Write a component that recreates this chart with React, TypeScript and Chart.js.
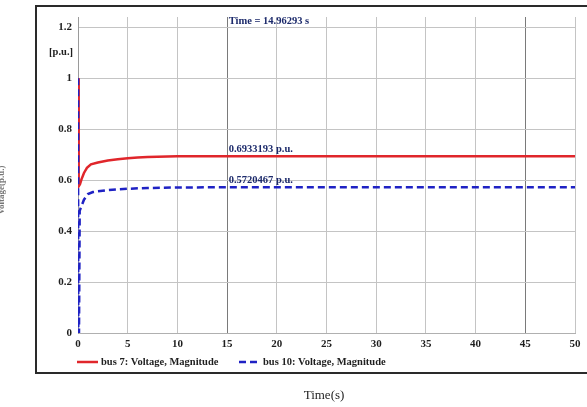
import React, { useEffect, useRef } from "react";
import { Chart, registerables } from "chart.js";

Chart.register(...registerables);

// bus 7 voltage magnitude trace
const timeBus7 = [0, 0.04, 0.1, 0.2, 0.35, 0.6, 0.9, 1.3, 2, 3, 4, 5, 6, 7, 8, 10, 15, 20, 30, 40, 50];
const voltBus7 = [1.0, 0.58, 0.576, 0.584, 0.603, 0.628, 0.648, 0.662, 0.669, 0.677, 0.682, 0.686, 0.689, 0.691, 0.692, 0.6931, 0.6933193, 0.6933193, 0.6933193, 0.6933193, 0.6933193];

// bus 10 voltage magnitude trace
const timeBus10 = [0, 0.03, 0.1, 0.17, 0.3, 0.6, 1, 1.5, 2, 3, 5, 7, 10, 15, 20, 30, 40, 50];
const voltBus10 = [1.0, 0.0, 0.0, 0.48, 0.493, 0.523, 0.545, 0.553, 0.556, 0.561, 0.566, 0.569, 0.571, 0.5720467, 0.5720467, 0.5720467, 0.5720467, 0.5720467];

const xTicks = [0, 5, 10, 15, 20, 25, 30, 35, 40, 45, 50];
const yTicks = [0, 0.2, 0.4, 0.6, 0.8, 1, 1.2];
const yTickLabels = ["0", "0.2", "0.4", "0.6", "0.8", "1", "1.2"];

const seriesNames = ["bus 7: Voltage, Magnitude", "bus 10: Voltage, Magnitude"];
const cursorTime = 14.96293;
const cursorValues = [0.6933193, 0.5720467];

const SERIF = "'Liberation Serif', 'Times New Roman', serif";
const INK = "#1f1f1f";
const NAVY = "#1c2a6b";

const overlay = {
  id: "overlay",
  afterDatasetsDraw(chart: any) {
    const { ctx, scales } = chart;
    const xs = scales.x;
    const ys = scales.y;
    ctx.save();

    // cursor readouts
    ctx.fillStyle = NAVY;
    ctx.font = `bold 10.5px ${SERIF}`;
    ctx.textAlign = "left";
    ctx.textBaseline = "alphabetic";
    const cx = xs.getPixelForValue(cursorTime) + 2;
    ctx.fillText(`Time = ${cursorTime} s`, cx, ys.getPixelForValue(1.2) - 3);
    cursorValues.forEach((v) => {
      ctx.fillText(`${v} p.u.`, cx, ys.getPixelForValue(v) - 4);
    });
    ctx.restore();
  },
  afterDraw(chart: any) {
    const { ctx, scales } = chart;
    const ys = scales.y;
    ctx.save();

    // outer frame
    ctx.strokeStyle = "#2a2a2a";
    ctx.lineWidth = 2;
    ctx.strokeRect(36, 6, 600, 367);

    // unit label on the value axis
    ctx.fillStyle = INK;
    ctx.font = `bold 10.5px ${SERIF}`;
    ctx.textAlign = "right";
    ctx.textBaseline = "middle";
    ctx.fillText("[p.u.]", 73, ys.getPixelForValue(1.1));

    // legend
    const ds = chart.data.datasets;
    const legendY = 362;
    const items = [
      { x: 77, label: seriesNames[0], d: ds[0] },
      { x: 239, label: seriesNames[1], d: ds[1] },
    ];
    items.forEach((it) => {
      ctx.beginPath();
      ctx.strokeStyle = it.d.borderColor;
      ctx.lineWidth = it.d.borderWidth;
      ctx.setLineDash(it.d.borderDash || []);
      ctx.moveTo(it.x, legendY);
      ctx.lineTo(it.x + 21, legendY);
      ctx.stroke();
      ctx.setLineDash([]);
      ctx.fillStyle = INK;
      ctx.font = `bold 10.5px ${SERIF}`;
      ctx.textAlign = "left";
      ctx.textBaseline = "middle";
      ctx.fillText(it.label, it.x + 24, legendY);
    });

    // axis titles
    ctx.fillStyle = INK;
    ctx.font = `13px ${SERIF}`;
    ctx.textAlign = "center";
    ctx.textBaseline = "middle";
    ctx.fillText("Time(s)", 324, 396);

    ctx.translate(2, 190);
    ctx.rotate(-Math.PI / 2);
    ctx.font = `bold 9px ${SERIF}`;
    ctx.fillStyle = "#777";
    ctx.fillText("Voltage(p.u.)", 0, 0);
    ctx.restore();
  },
};

export default function App() {
  const ref = useRef<HTMLCanvasElement>(null);

  useEffect(() => {
    if (!ref.current) return;
    const chart = new Chart(ref.current, {
      type: "line",
      data: {
        datasets: [
          {
            label: seriesNames[0],
            data: timeBus7.map((t, i) => ({ x: t, y: voltBus7[i] })),
            borderColor: "#e0262b",
            borderWidth: 2.5,
            pointRadius: 0,
            tension: 0,
            order: 1,
          },
          {
            label: seriesNames[1],
            data: timeBus10.map((t, i) => ({ x: t, y: voltBus10[i] })),
            borderColor: "#1f22c4",
            borderWidth: 2.5,
            borderDash: [7, 4],
            pointRadius: 0,
            tension: 0,
            order: 0,
          },
        ],
      },
      options: {
        responsive: false,
        animation: false,
        layout: { padding: { left: 0, right: 12, top: 17, bottom: 0 } },
        plugins: { legend: { display: false }, tooltip: { enabled: false } },
        scales: {
          x: {
            type: "linear",
            min: 0,
            max: 50,
            afterBuildTicks: (s: any) => {
              s.ticks = xTicks.map((v) => ({ value: v }));
            },
            afterFit: (s: any) => {
              s.height = 74;
            },
            grid: {
              drawTicks: false,
              color: (c: any) =>
                c.tick && (c.tick.value === 15 || c.tick.value === 45) ? "#7a7a7a" : "#c4c4c4",
              lineWidth: 1,
            },
            border: { display: true, color: "#b0b0b0" },
            ticks: {
              padding: 5,
              color: INK,
              font: { family: SERIF, size: 11, weight: "bold" },
              maxRotation: 0,
            },
          },
          y: {
            type: "linear",
            min: 0,
            max: 1.24,
            afterBuildTicks: (s: any) => {
              s.ticks = yTicks.map((v) => ({ value: v }));
            },
            afterFit: (s: any) => {
              s.width = 78;
            },
            grid: { drawTicks: false, color: "#c4c4c4", lineWidth: 1 },
            border: { display: true, color: "#9a9a9a" },
            ticks: {
              padding: 6,
              color: INK,
              font: { family: SERIF, size: 11, weight: "bold" },
              callback: (_v: any, i: number) => yTickLabels[i],
            },
          },
        },
      },
      plugins: [overlay],
    } as any);
    return () => chart.destroy();
  }, []);

  return (
    <canvas
      ref={ref}
      width={587}
      height={407}
      style={{ position: "fixed", left: 0, top: 0, width: 587, height: 407, background: "#fff" }}
    />
  );
}
